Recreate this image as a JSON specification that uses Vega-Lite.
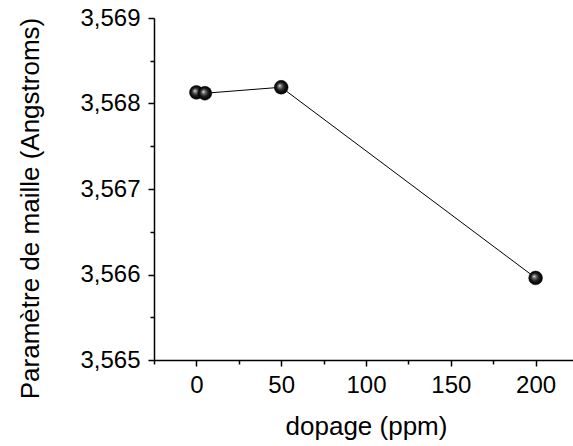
{
  "$schema": "https://vega.github.io/schema/vega-lite/v6.json",
  "width": 424,
  "height": 342,
  "autosize": {"type": "none"},
  "padding": {"left": 154, "top": 18, "right": 0, "bottom": 86},
  "background": "white",
  "config": {
    "view": {"stroke": null},
    "font": "Liberation Sans",
    "axis": {
      "grid": false,
      "domainColor": "black",
      "tickColor": "black",
      "labelColor": "black",
      "titleColor": "black",
      "domainWidth": 1.5,
      "tickWidth": 1.5,
      "labelFont": "Liberation Sans",
      "titleFont": "Liberation Sans",
      "labelFontSize": 24,
      "titleFontSize": 26,
      "titleFontWeight": "normal",
      "labelFlush": false,
      "labelOverlap": false
    }
  },
  "data": {
    "values": [
      {"dopage": 0, "parametre": 3.56813},
      {"dopage": 5, "parametre": 3.56812},
      {"dopage": 50, "parametre": 3.56819},
      {"dopage": 200, "parametre": 3.56596}
    ]
  },
  "layer": [
    {
      "mark": {"type": "line", "color": "black", "strokeWidth": 1},
      "encoding": {
        "x": {
          "field": "dopage", "type": "quantitative",
          "scale": {"domain": [-25, 225], "nice": false, "zero": false},
          "axis": {"orient": "bottom", "values": [0, 50, 100, 150, 200], "title": "dopage (ppm)", "tickSize": 6, "labelPadding": 7, "titlePadding": 16}
        },
        "y": {
          "field": "parametre", "type": "quantitative",
          "scale": {"domain": [3.565, 3.569], "nice": false, "zero": false},
          "axis": {"orient": "left", "values": [3.565, 3.566, 3.567, 3.568, 3.569], "labelExpr": "replace(format(datum.value, '.3f'), '.', ',')", "title": "Paramètre de maille (Angstroms)", "tickSize": 6, "labelPadding": 8, "titlePadding": 36, "titleY": 190}
        }
      }
    },
    {
      "mark": {
        "type": "point", "filled": true, "size": 190, "opacity": 1,
        "fill": {"gradient": "radial", "x1": 0.38, "y1": 0.38, "r1": 0, "x2": 0.5, "y2": 0.5, "r2": 0.5,
          "stops": [{"offset": 0, "color": "#f0f0f0"}, {"offset": 0.25, "color": "#707070"}, {"offset": 0.6, "color": "#1a1a1a"}, {"offset": 1, "color": "#000000"}]},
        "stroke": "black", "strokeWidth": 0.5
      },
      "encoding": {
        "x": {
          "field": "dopage", "type": "quantitative",
          "axis": {"orient": "bottom", "values": [-25, 25, 75, 125, 175, 225], "labels": false, "title": null, "tickSize": 4, "domain": false}
        },
        "y": {
          "field": "parametre", "type": "quantitative",
          "axis": {"orient": "left", "values": [3.5655, 3.5665, 3.5675, 3.5685], "labels": false, "title": null, "tickSize": 4, "domain": false}
        }
      }
    }
  ],
  "resolve": {"axis": {"x": "independent", "y": "independent"}}
}
